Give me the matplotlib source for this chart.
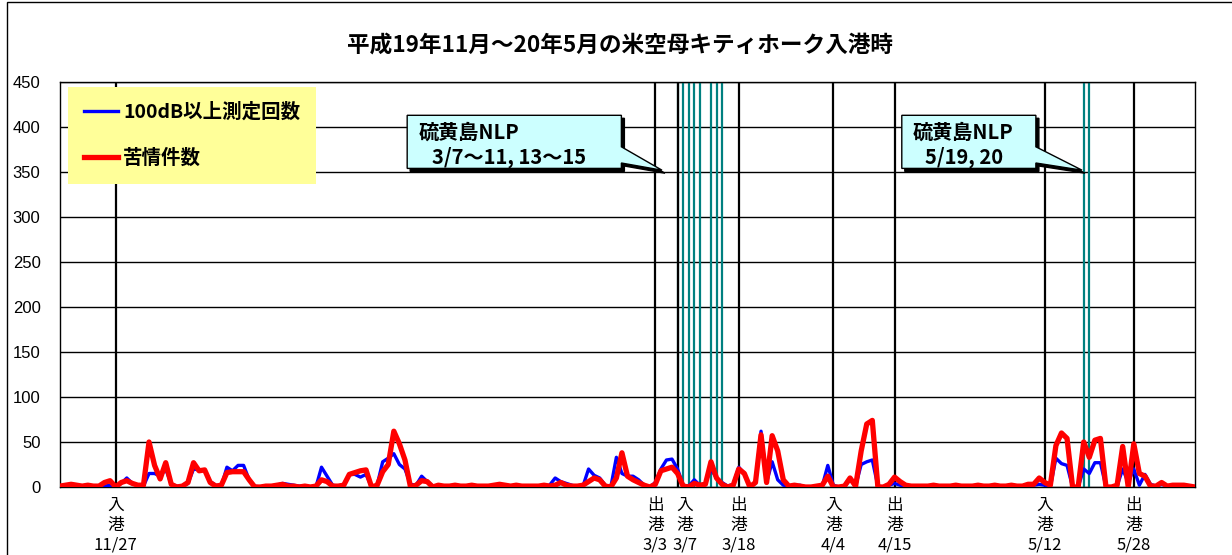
import matplotlib
matplotlib.use("Agg")
import matplotlib.pyplot as plt
import matplotlib.transforms as mtransforms
from matplotlib.patches import Polygon, Rectangle
import pandas as pd

plt.rcParams["font.family"] = ["Noto Sans CJK JP", "DejaVu Sans"]

# daily values, first day 2007-11-17
start_date = "2007-11-17"
complaints = [
    1, 2, 3, 2, 1, 2, 1, 1, 5, 7,
    0, 5, 7, 4, 2, 2, 50, 24, 9, 27,
    3, 0, 1, 5, 27, 18, 19, 5, 1, 2,
    16, 17, 17, 17, 8, 0, 0, 1, 1, 2,
    3, 1, 1, 0, 1, 0, 1, 8, 6, 1,
    1, 2, 14, 16, 18, 19, 0, 2, 17, 25,
    62, 48, 30, 0, 2, 7, 6, 0, 2, 1,
    1, 2, 1, 1, 2, 1, 1, 1, 2, 3,
    2, 1, 2, 1, 1, 1, 1, 2, 1, 2,
    5, 2, 1, 1, 2, 6, 10, 8, 1, 0,
    10, 38, 12, 8, 5, 2, 0, 3, 18, 20,
    22, 15, 1, 0, 4, 2, 3, 28, 10, 3,
    0, 2, 20, 15, 0, 5, 58, 5, 57, 40,
    8, 1, 2, 1, 0, 0, 1, 2, 12, 0,
    0, 1, 10, 1, 40, 70, 74, 0, 0, 3,
    11, 6, 2, 1, 1, 1, 1, 2, 1, 1,
    1, 2, 1, 1, 1, 2, 1, 1, 2, 1,
    1, 2, 1, 1, 3, 3, 10, 5, 2, 46,
    60, 54, 0, 0, 50, 33, 52, 54, 0, 0,
    2, 45, 0, 48, 15, 12, 1, 1, 5, 1,
    2, 2, 2, 1, 0,
]
over_100db = [
    0, 1, 1, 1, 0, 1, 0, 0, 1, 2,
    1, 4, 10, 4, 2, 1, 15, 15, 12, 20,
    3, 1, 1, 4, 20, 19, 19, 6, 2, 1,
    22, 18, 24, 24, 8, 1, 0, 0, 1, 2,
    4, 3, 2, 1, 1, 0, 0, 22, 12, 2,
    1, 3, 14, 14, 11, 14, 0, 2, 28, 32,
    37, 25, 20, 3, 2, 12, 6, 1, 2, 1,
    1, 2, 1, 1, 2, 1, 1, 1, 2, 2,
    2, 1, 2, 1, 1, 1, 1, 1, 2, 10,
    6, 4, 2, 0, 1, 20, 13, 10, 2, 0,
    33, 15, 12, 12, 8, 2, 0, 5, 20, 30,
    31, 20, 2, 1, 8, 2, 4, 20, 10, 5,
    1, 3, 22, 15, 0, 5, 62, 5, 28, 8,
    2, 1, 1, 2, 0, 0, 1, 1, 24, 2,
    0, 1, 8, 1, 25, 28, 30, 1, 0, 2,
    4, 2, 1, 1, 1, 1, 1, 1, 1, 1,
    1, 1, 1, 1, 1, 1, 1, 1, 1, 1,
    1, 1, 1, 1, 2, 2, 3, 2, 0, 32,
    26, 24, 0, 0, 20, 15, 27, 27, 0, 0,
    1, 20, 5, 20, 2, 14, 3, 1, 3, 1,
    1, 1, 1, 0, 0,
]

event_dates = ["2007-11-27", "2008-03-03", "2008-03-07", "2008-03-18",
               "2008-04-04", "2008-04-15", "2008-05-12", "2008-05-28"]
event_kinds = ["入港", "出港", "入港", "出港", "入港", "出港", "入港", "出港"]
event_labels = ["11/27", "3/3", "3/7", "3/18", "4/4", "4/15", "5/12", "5/28"]
nlp_dates = ["2008-03-07", "2008-03-08", "2008-03-09", "2008-03-10", "2008-03-11",
             "2008-03-13", "2008-03-14", "2008-03-15", "2008-05-19", "2008-05-20"]


def day_index(d):
    return (pd.Timestamp(d) - pd.Timestamp(start_date)).days


days = list(range(len(complaints)))

fig = plt.figure(figsize=(12.32, 5.55), dpi=100)
fig.patches.append(Rectangle((7 / 1232, -0.1), 1.2, 0.1 + 553 / 555, transform=fig.transFigure,
                             fill=False, edgecolor="black", lw=1))
ax = fig.add_axes([60 / 1232, 68 / 555, 1135 / 1232, 405 / 555])

ax.set_xlim(0, len(days) - 1)
ax.set_ylim(0, 450)
ax.set_yticks(range(0, 451, 50))
ax.set_xticks([])
ax.yaxis.grid(True, color="black", lw=1)
ax.set_axisbelow(True)
ax.tick_params(axis="y", length=0, pad=14)
for lab in ax.get_yticklabels():
    lab.set_family("Liberation Sans")
    lab.set_fontsize(12)
for sp in ax.spines.values():
    sp.set_color("black")
    sp.set_linewidth(1)

for d in nlp_dates:
    ax.axvline(day_index(d), color="#008080", lw=1.6, zorder=2)
for d in event_dates:
    ax.axvline(day_index(d), color="black", lw=1.6, zorder=2)

ax.plot(days, over_100db, color="#0000FF", lw=2.4, zorder=3, label="100dB以上測定回数")
ax.plot(days, complaints, color="#FF0000", lw=3.8, zorder=4, label="苦情件数")

# event labels under the axis
for d, kind, lab in zip(event_dates, event_kinds, event_labels):
    x = day_index(d)
    if lab == "3/7":
        x += 1.3
    ax.text(x, -11, kind[0] + "\n" + kind[1] + "\n" + lab, ha="center", va="top",
            fontsize=12, linespacing=1.22, multialignment="center")

leg = ax.legend(loc="upper left", bbox_to_anchor=(0.007, 0.988), borderaxespad=0,
                fancybox=False, framealpha=1, facecolor="#FFFF99", edgecolor="none",
                prop={"size": 14, "weight": "bold"}, handlelength=1.75,
                handletextpad=0.3, labelspacing=1.4, borderpad=0.8)
leg.set_zorder(6)

shadow = mtransforms.offset_copy(ax.transData, fig=fig, x=3, y=-3, units="dots")


def callout(x0, x1, tip_x, title, sub, sub_x):
    y0, y1 = 354, 413
    pts = [(x0, y1), (x1, y1), (x1, 378), (tip_x, 352), (x1, 360), (x1, y0), (x0, y0)]
    ax.add_patch(Polygon(pts, closed=True, facecolor="black", edgecolor="black",
                         transform=shadow, zorder=7))
    ax.add_patch(Polygon(pts, closed=True, facecolor="#CCFFFF", edgecolor="black",
                         lw=1, zorder=8))
    ax.text(x0 + 2.0, 394, title, fontsize=14.5, fontweight="bold", va="center", zorder=9)
    ax.text(sub_x, 366, sub, fontsize=14.5, fontweight="bold", va="center", zorder=9)


callout(62.4, 100.9, 108.2, "硫黄島NLP", "3/7～11, 13～15", 66.8)
callout(151.3, 175.4, 183.7, "硫黄島NLP", "5/19, 20", 155.5)

fig.text(620 / 1232, 1 - 45 / 555, "平成19年11月～20年5月の米空母キティホーク入港時",
         ha="center", va="center", fontsize=16.3, fontweight="bold")

fig.savefig("out.png", dpi=100)
